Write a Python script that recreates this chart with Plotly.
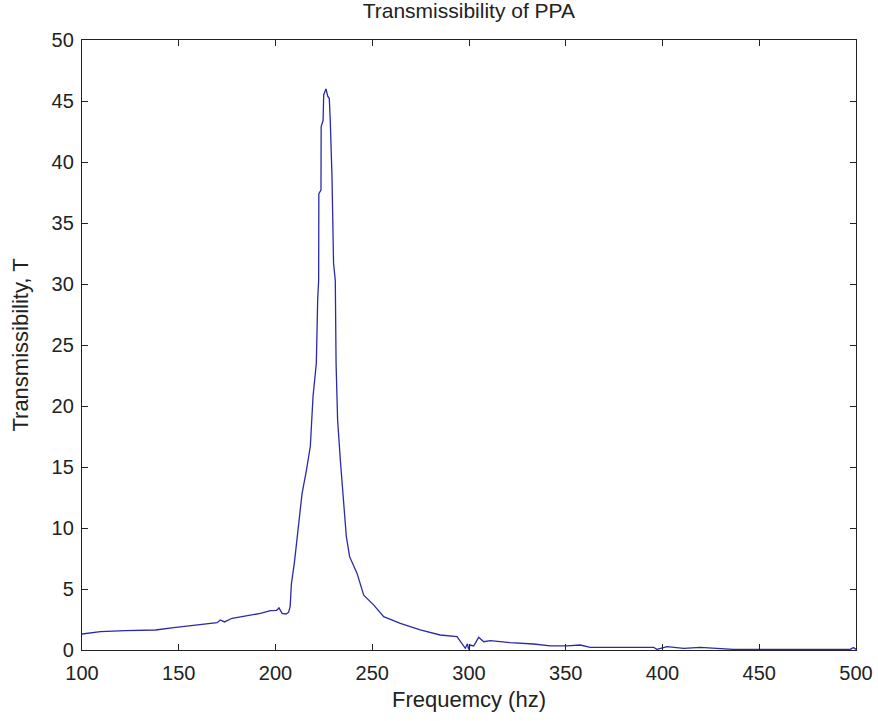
import plotly.graph_objects as go

freq_hz = [100, 109.5, 122.4, 138, 147.4, 159.5, 169.8, 171.5, 173.6, 177.6, 185.3, 192.2,
           197.4, 200.5, 201.8, 203.4, 205.5, 206.8, 207.6, 208.2, 209.8, 211.7, 213.7, 216,
           218, 219.4, 221.1, 221.8, 222.3, 222.4, 223.5, 223.6, 224.6, 224.9, 226.1, 227,
           227.8, 228.3, 229.2, 230, 230.9, 231.3, 232.1, 233.5, 235.2, 236.6, 238.3, 242.1,
           245.6, 250.7, 255.9, 264.5, 274.8, 285.1, 293.8, 296.4, 298.1, 299.2, 299.8, 300.6,
           302.4, 305, 307.6, 311, 321.3, 333.4, 342, 350.6, 357.5, 362.7, 385, 395.4, 397.1,
           402.3, 411, 419.5, 436.6, 453.9, 497, 498.7, 500]
transmissibility = [1.31, 1.5, 1.58, 1.64, 1.83, 2.05, 2.24, 2.46, 2.3, 2.6, 2.79, 3.0,
                    3.22, 3.25, 3.45, 3.0, 2.95, 3.1, 3.6, 5.4, 7.2, 10.1, 12.8, 14.75,
                    16.7, 20.8, 23.5, 28.7, 30.3, 37.4, 37.7, 42.9, 43.4, 45.5, 46.0, 45.4,
                    45.2, 43.4, 38.8, 31.7, 30.3, 23.5, 18.85, 15.6, 11.75, 9.3, 7.65, 6.3,
                    4.5, 3.7, 2.73, 2.19, 1.64, 1.23, 1.09, 0.55, 0.14, 0.5, 0.05, 0.4,
                    0.33, 1.04, 0.68, 0.77, 0.6, 0.49, 0.33, 0.33, 0.41, 0.22, 0.22, 0.22, 0.05,
                    0.27, 0.14, 0.22, 0.05, 0.05, 0.05, 0.2, 0.05]

x_ticks = [100, 150, 200, 250, 300, 350, 400, 450, 500]
y_ticks = [0, 5, 10, 15, 20, 25, 30, 35, 40, 45, 50]

font_family = "Liberation Sans, Arial, sans-serif"
ink = "#222222"

fig = go.Figure()
fig.add_trace(go.Scatter(x=freq_hz, y=transmissibility, mode="lines",
                         line=dict(color="#2a2aa8", width=1.3), showlegend=False))

axis_common = dict(showline=True, linecolor=ink, linewidth=1.3, mirror="ticks",
                   ticks="inside", ticklen=6, tickwidth=1.2, tickcolor=ink,
                   showgrid=False, zeroline=False, automargin=False,
                   tickfont=dict(family=font_family, size=20, color=ink))

fig.update_layout(
    width=878, height=721,
    margin=dict(l=82, r=22, t=40, b=71),
    paper_bgcolor="white", plot_bgcolor="white",
    title=dict(text="Transmissibility of PPA", x=0.534, xanchor="center", y=0.985, yanchor="middle",
               font=dict(family=font_family, size=21, color=ink)),
    xaxis=dict(range=[100, 500], tickvals=x_ticks, ticktext=[str(v) for v in x_ticks],
               ticklabelstandoff=5,
               title=dict(text="Frequemcy (hz)", standoff=8,
                          font=dict(family=font_family, size=22, color=ink)),
               **axis_common),
    yaxis=dict(range=[0, 50], tickvals=y_ticks, ticktext=[str(v) for v in y_ticks],
               ticklabelstandoff=3,
               title=dict(text="Transmissibility, T", standoff=16,
                          font=dict(family=font_family, size=22, color=ink)),
               **axis_common),
)

fig.write_html("out.html")
